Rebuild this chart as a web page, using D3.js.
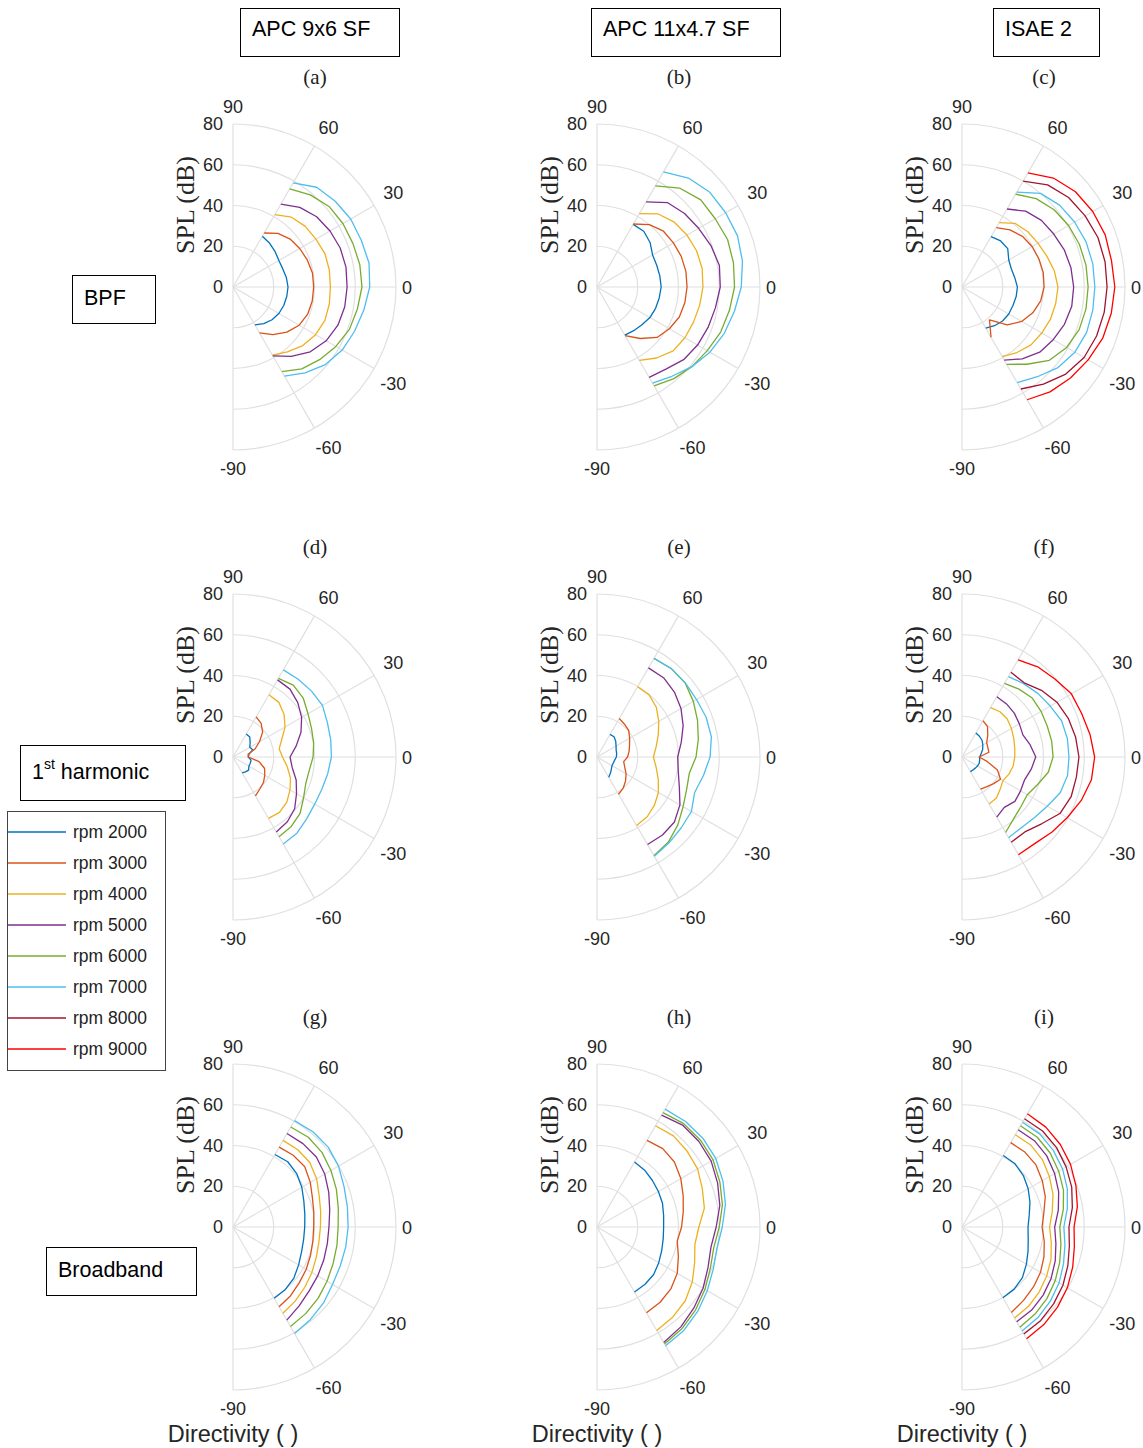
<!DOCTYPE html>
<html>
<head>
<meta charset="utf-8">
<script src="https://cdn.jsdelivr.net/npm/d3@7"></script>
<style>
  body { margin: 0; background: #fff; }
  text { font-family: "Liberation Sans", Arial, Helvetica, sans-serif; }
  .serif { font-family: "Liberation Serif", "DejaVu Serif", serif; }
</style>
</head>
<body>
<svg id="chart" width="1143" height="1448"></svg>
<script>
// ---- Data -----------------------------------------------------------------
const angles = [-60, -50, -40, -30, -20, -10, 0, 10, 20, 30, 40, 50, 60];   // deg
const rpmLabels = ["rpm 2000", "rpm 3000", "rpm 4000", "rpm 5000",
                   "rpm 6000", "rpm 7000", "rpm 8000", "rpm 9000"];
const columnTitles = ["APC 9x6 SF", "APC 11x4.7 SF", "ISAE 2"];
const rowTitles = ["BPF", "1st harmonic", "Broadband"];
const panelLetters = ["a", "b", "c", "d", "e", "f", "g", "h", "i"];
const radialTicks = [0, 20, 40, 60, 80];              // SPL (dB)
const angleTicks = [90, 60, 30, 0, -30, -60, -90];    // directivity (deg)
const gridAngles = [90, 60, 30, 0, -30, -60, -90];

// SPL (dB) at each angle in `angles`, one row per rpm (2000, 3000, ...)
const bpfApc9x6 = [
  [21.5, 23.5, 25, 26, 26.5, 26.8, 27, 26.6, 26, 26, 27, 28, 28.8],
  [26, 30.5, 34.5, 37.5, 39, 39.5, 39.6, 39.6, 38.8, 37.8, 36.6, 34.3, 30.6],
  [38.6, 41.5, 44.7, 46.8, 48, 48, 47.8, 48, 48, 47, 46.3, 44.7, 41],
  [39, 44.5, 49.5, 52.8, 54.8, 55.7, 56, 56.3, 56, 55, 53.6, 51, 47],
  [48, 52.5, 55.5, 58.3, 60.8, 62, 63.3, 63.2, 62.6, 62.3, 61.5, 59, 55.6],
  [50.5, 55, 59.2, 61.9, 63.5, 65.2, 67.1, 67.8, 67, 66.7, 65.5, 63.9, 59]
];
const bpfApc11x47 = [
  [27.3, 28, 28.8, 30, 30.6, 31, 31.5, 31.3, 31.2, 31.5, 34, 35.7, 35.5],
  [27.5, 33, 38.5, 41, 43, 43.8, 44.2, 44.3, 44, 43.3, 42.6, 40, 35.7],
  [41.6, 45.5, 48.8, 49.8, 50.4, 51.2, 52, 52.4, 52, 51, 49.5, 46.8, 41.6],
  [51.2, 52.6, 55.5, 57, 58, 59, 60.5, 61, 59.5, 57.6, 56.1, 54, 48.2],
  [56, 58.7, 60.8, 62.5, 64.6, 66, 67.5, 68, 68.2, 67, 66.5, 63.3, 57.3],
  [54.5, 57.2, 60.8, 64, 66.5, 68.5, 70.8, 72.5, 73.4, 72.9, 72.3, 69.8, 65.2]
];
const bpfIsae2 = [
  [23.3, 24.8, 26, 26.5, 26.6, 27, 27.2, 26.3, 25.8, 26.5, 29.3, 29.5, 28.5],
  [28.5, 21, 29, 33.8, 37, 39.2, 40.3, 40.5, 40.2, 39.7, 38.7, 36.6, 33.7],
  [39.4, 42, 44.2, 45.2, 46.2, 46.7, 47.1, 46, 44.3, 43, 42.2, 40.7, 36.5],
  [41.4, 46, 49.8, 51.7, 53.5, 54.7, 54.8, 54.3, 53.4, 52, 50.9, 48.6, 44.2],
  [43.8, 49.5, 56, 59.3, 61.2, 61.8, 61.9, 61.8, 61.3, 60.4, 59, 56.6, 52.6],
  [54.2, 57.5, 61.5, 64, 65.1, 65.2, 65.2, 65.2, 64.8, 63.8, 62.5, 60, 53.8],
  [57.8, 62.2, 66.5, 69.2, 70.3, 70.9, 71.2, 71.3, 71, 69.8, 68.3, 65.4, 60],
  [63.9, 67.2, 69.5, 71.5, 73.5, 74.4, 75, 74.5, 74.8, 74.1, 72.7, 69.8, 64.7]
];
const harmApc9x6 = [
  [9, 9.5, 10, 9, 9, 9, 7.5, 8, 10.3, 9.5, 11, 12.8, 13],
  [22, 20.5, 19.5, 18, 16.5, 13, 7.5, 7.5, 11.5, 15, 19, 21.5, 22.7],
  [34.8, 35.5, 34.5, 32.3, 30, 27, 24.3, 23, 25.5, 29.5, 32.7, 35, 35.3],
  [42.5, 41.5, 39.5, 36, 33, 29.5, 28, 31.5, 35.5, 38.9, 41.5, 43.5, 43.7],
  [45.2, 44.5, 43, 40, 38, 38, 39.3, 40.2, 41, 42.5, 45, 46, 44.6],
  [49.3, 48.8, 47.2, 46.3, 46.4, 47.2, 48.3, 48.7, 49.3, 50.7, 50.3, 49.8, 49.4]
];
const harmApc11x47 = [
  [11.5, 10.3, 9.2, 8.5, 8.5, 8.8, 9.5, 9.8, 10, 10.8, 12, 13, 12.8],
  [21.1, 20, 18.3, 16.5, 14.5, 13.3, 15, 16, 17, 18.5, 20.3, 21, 21.8],
  [38.8, 38.3, 36.8, 34.8, 32, 29.5, 27.7, 29.5, 32, 35, 38, 39.8, 39.8],
  [49.6, 50, 49.6, 47, 43, 40.5, 39.6, 42, 45, 47.6, 49.6, 50.8, 50.5],
  [55.9, 54.5, 51.8, 48.8, 46.8, 46, 48.6, 50.5, 52.5, 54.6, 56.5, 56.7, 55.9],
  [56.3, 55, 54, 53.5, 51, 53, 55.5, 57, 57, 56.4, 56.6, 56.6, 56]
];
const harmIsae2 = [
  [8.3, 8.3, 8.5, 8.8, 9, 8.8, 8.7, 9.5, 10.8, 11.8, 12.8, 13.3, 13.6],
  [18.2, 19, 20.3, 21.8, 18.5, 12.5, 8.4, 13.4, 13.5, 14, 16.5, 19.5, 20.6],
  [26.6, 26.3, 24.5, 23.2, 24.5, 25.5, 25.9, 26.3, 27, 28, 29, 29, 28],
  [34.1, 32.3, 33.9, 33.2, 32.7, 34.5, 36.2, 34, 31.8, 32.5, 33.5, 34, 34.2],
  [42.8, 39.5, 37.8, 37, 39.5, 43, 44.7, 44.7, 44.5, 44.8, 45, 43.5, 41.7],
  [45.7, 45.3, 46.3, 48.3, 51.3, 52.6, 52.5, 52.5, 52, 50, 48.6, 47, 45.6],
  [48.3, 48, 51, 55.5, 57, 57, 57.4, 56.6, 55.5, 53.8, 50.9, 47.5, 48],
  [55.4, 55.5, 57.5, 59.6, 62.3, 64.5, 65.1, 63.8, 62.5, 62, 59.5, 57.8, 55.1]
];
const bbApc9x6 = [
  [40.4, 40, 39, 37.2, 35.8, 35.2, 35.2, 35.8, 37, 39, 40.8, 41.8, 41.1],
  [45.2, 44, 42.5, 41.5, 40.5, 39.8, 39.6, 40.3, 41.5, 43.8, 46, 46, 45.3],
  [48.9, 47.5, 46, 44.7, 43.5, 42.8, 42.9, 43.7, 45, 47.4, 49.2, 49.5, 49.1],
  [52.8, 50.5, 48.8, 48, 47.4, 47, 47.1, 48.2, 50, 52, 53.4, 53.4, 53],
  [56.4, 55.5, 54.5, 53.3, 52.3, 51.8, 51.6, 52.5, 54, 55.5, 57, 57.5, 56.7],
  [60.4, 59.2, 58, 56.4, 56, 56.2, 56.5, 57, 58, 59.8, 61, 61, 60.3]
];
const bbApc11x47 = [
  [36.8, 36.7, 36.3, 35, 33.8, 33, 32.7, 33.2, 34.2, 34.8, 35.5, 36.4, 36.8],
  [48.6, 48.2, 47.3, 45.5, 42.5, 40, 41.5, 43, 45, 47.5, 49.6, 50.2, 49.1],
  [58.6, 57.8, 56.5, 54, 51, 48.8, 50, 53.5, 55, 57, 57.8, 58.4, 57.4],
  [65.5, 64, 62, 60.1, 58, 56.8, 58.5, 61.2, 63, 64.7, 65.3, 65.3, 63.4],
  [66.3, 65, 63.2, 61.2, 59.2, 58.2, 60, 62.5, 64.2, 65.8, 66.3, 66.2, 64.8],
  [67.3, 66.3, 64.5, 62.5, 60.7, 59.8, 61.5, 64, 65.8, 67.3, 67.8, 67.6, 66.8]
];
const bbIsae2 = [
  [40.1, 39.8, 38.7, 36.5, 34.5, 33, 32.4, 33.5, 35.5, 37.5, 39.3, 40.5, 40.5],
  [48.5, 47, 45.8, 44.5, 42.8, 41, 39.3, 40.8, 43.5, 45.5, 47.4, 48, 47.8],
  [51.6, 50.8, 49.5, 48, 46.5, 44.5, 43, 45, 47.5, 49.5, 51.5, 52.5, 52.3],
  [53.7, 53.2, 52, 50.5, 48.7, 46.8, 45.5, 48, 50.5, 52.5, 54.3, 55.3, 55.1],
  [56.8, 55.8, 54.5, 52.8, 51, 49.3, 48, 50.5, 53, 54.8, 56.5, 57.5, 57.4],
  [58.9, 58, 56.6, 55, 53, 51.3, 50, 52.5, 55, 57, 58.5, 59.5, 59.4],
  [60.7, 60, 58.7, 57.2, 55.3, 53.5, 52.5, 55, 57.3, 59, 60.6, 61.5, 61.3],
  [63.4, 62.5, 61.2, 59.7, 57.8, 56, 55, 57.5, 59.5, 61.5, 63, 64, 64.2]
];

// Panels in reading order (rows: BPF, 1st harmonic, broadband)
const panelSeries = [
  bpfApc9x6, bpfApc11x47, bpfIsae2,
  harmApc9x6, harmApc11x47, harmIsae2,
  bbApc9x6, bbApc11x47, bbIsae2
];

// ---- Styles / layout ------------------------------------------------------
const seriesColors = ["#0072BD", "#D95319", "#EDB120", "#7E2F8E",
                      "#77AC30", "#4DBEEE", "#A2142F", "#FF0000"];
const colCenters = [233, 597, 962];
const rowCenters = [287, 757, 1227];
const R = 163;
const gridColor = "#e0e0e0";
const tickColor = "#262626";

const svg = d3.select("#chart");
const rScale = d3.scaleLinear().domain([0, 80]).range([0, R]);
// polar angle (deg, counter-clockwise from +x) -> d3 radial angle (rad, clockwise from up)
const toRadial = deg => (90 - deg) * Math.PI / 180;

const radialLine = d3.lineRadial()
  .angle(d => toRadial(d[0]))
  .radius(d => rScale(d[1]));

// placement of an angle tick label relative to the pole
function labelPos(a) {
  const t = a * Math.PI / 180;
  const rl = a === 0 ? 174 : Math.abs(a) === 90 ? 181 : 185;
  let x = rl * Math.cos(t), y = -rl * Math.sin(t) + 1;
  if (Math.abs(a) === 60) x += 3;
  if (Math.abs(a) === 30) y += a > 0 ? -3 : 3;
  return [x, y];
}

panelSeries.forEach((series, p) => {
  const col = p % 3, row = Math.floor(p / 3);
  const cx = colCenters[col], cy = rowCenters[row];
  const g = svg.append("g").attr("transform", `translate(${cx},${cy})`);

  // rings
  radialTicks.filter(v => v > 0).forEach(v => {
    const path = d3.path();
    path.arc(0, 0, rScale(v), -Math.PI / 2, Math.PI / 2);
    g.append("path").attr("d", path.toString())
      .attr("fill", "none").attr("stroke", gridColor).attr("stroke-width", 1.2);
  });
  // spokes
  gridAngles.forEach(a => {
    const t = a * Math.PI / 180;
    g.append("line")
      .attr("x1", 0).attr("y1", 0)
      .attr("x2", rScale(80) * Math.cos(t)).attr("y2", -rScale(80) * Math.sin(t))
      .attr("stroke", gridColor).attr("stroke-width", 1.2);
  });

  // data curves
  series.forEach((vals, i) => {
    g.append("path")
      .datum(angles.map((a, k) => [a, vals[k]]))
      .attr("d", radialLine)
      .attr("fill", "none")
      .attr("stroke", seriesColors[i])
      .attr("stroke-width", 1.3)
      .attr("stroke-linejoin", "round");
  });

  // angle tick labels
  angleTicks.forEach(a => {
    const [x, y] = labelPos(a);
    g.append("text")
      .attr("x", x).attr("y", y)
      .attr("text-anchor", "middle").attr("dominant-baseline", "central")
      .attr("font-size", 18).attr("fill", tickColor)
      .text(a);
  });
  // radial tick labels
  radialTicks.forEach(v => {
    g.append("text")
      .attr("x", -10).attr("y", -rScale(v))
      .attr("text-anchor", "end").attr("dominant-baseline", "central")
      .attr("font-size", 18).attr("fill", tickColor)
      .text(v);
  });
  // radial axis title
  g.append("text")
    .attr("class", "serif")
    .attr("transform", `translate(-48,-82) rotate(-90)`)
    .attr("text-anchor", "middle").attr("dominant-baseline", "central")
    .attr("font-size", 26).attr("fill", tickColor)
    .text("SPL (dB)");
  // panel letter
  g.append("text")
    .attr("class", "serif")
    .attr("x", 82).attr("y", -210)
    .attr("text-anchor", "middle").attr("dominant-baseline", "central")
    .attr("font-size", 21).attr("fill", "#222")
    .text(`(${panelLetters[p]})`);
  // angular axis title on the bottom row
  if (row === 2) {
    g.append("text")
      .attr("x", 0).attr("y", 215)
      .attr("text-anchor", "middle")
      .attr("font-size", 23.5).attr("fill", tickColor)
      .text("Directivity ( )");
  }
});

// ---- Column and row title boxes ------------------------------------------
const colBoxes = [[240, 159], [591, 189], [993, 106]];
columnTitles.forEach((t, i) => {
  const [x, w] = colBoxes[i];
  svg.append("rect").attr("x", x + 0.5).attr("y", 8.5).attr("width", w).attr("height", 48)
    .attr("fill", "#fff").attr("stroke", "#000").attr("stroke-width", 1);
  svg.append("text").attr("x", x + 12).attr("y", 29)
    .attr("dominant-baseline", "central").attr("font-size", 21.5).attr("fill", "#000")
    .text(t);
});

const rowBoxes = [[72, 275, 83, 48], [20, 745, 165, 55], [46, 1247, 150, 48]];
rowTitles.forEach((t, i) => {
  const [x, y, w, h] = rowBoxes[i];
  svg.append("rect").attr("x", x + 0.5).attr("y", y + 0.5).attr("width", w).attr("height", h)
    .attr("fill", "#fff").attr("stroke", "#000").attr("stroke-width", 1);
  const txt = svg.append("text").attr("x", x + 12).attr("y", y + h / 2 + 6)
    .attr("font-size", 21.5).attr("fill", "#000");
  const m = t.match(/^(\d+)(st|nd|rd|th)(.*)$/);
  if (m) {
    txt.append("tspan").text(m[1]);
    txt.append("tspan").attr("font-size", 14).attr("dy", -10).text(m[2]);
    txt.append("tspan").attr("dy", 10).text(m[3]);
  } else {
    txt.text(t);
  }
});

// ---- Legend ---------------------------------------------------------------
const legend = svg.append("g");
legend.append("rect").attr("x", 7.5).attr("y", 811.5).attr("width", 158).attr("height", 259)
  .attr("fill", "#fff").attr("stroke", "#444").attr("stroke-width", 1);
rpmLabels.forEach((lab, i) => {
  const y = 832 + i * 31;
  legend.append("line").attr("x1", 8).attr("x2", 66).attr("y1", y).attr("y2", y)
    .attr("stroke", seriesColors[i]).attr("stroke-width", 1.3);
  legend.append("text").attr("x", 73).attr("y", y).attr("dominant-baseline", "central")
    .attr("font-size", 17.5).attr("fill", "#222").text(lab);
});
</script>
</body>
</html>
